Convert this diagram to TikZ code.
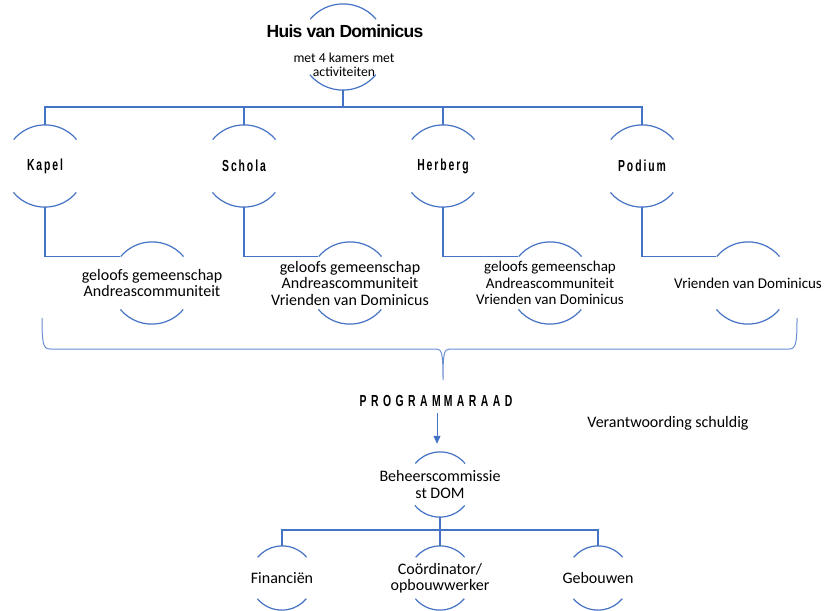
\documentclass[tikz,border=0pt]{standalone}
\usepackage{fontspec}
\setmainfont{Carlito}
\newfontfamily\titlefont{Liberation Sans}[LetterSpace=-4]
\newfontfamily\roomfont{Liberation Sans}[FakeStretch=0.65,LetterSpace=12]
\newfontfamily\raadfont{Liberation Sans}[FakeStretch=0.65,LetterSpace=28]
\usepackage{tikz}
\usetikzlibrary{arrows.meta}
\definecolor{office-blue}{HTML}{4472C4}
\tikzset{
    ring-node/.style = {circle, inner sep=0pt, minimum size=2*#1},
    ring-arc/.style = {draw=office-blue, line width=1.2pt},
    link-line/.style = {draw=office-blue, line width=1.3pt},
    brace-line/.style = {draw=office-blue!80, line width=1pt},
    arrow-line/.style = {draw=office-blue, line width=1pt, -{Triangle[width=7pt,length=8pt]}},
    room-label/.style = {font=\roomfont\bfseries\fontsize{16}{18}\selectfont, inner sep=0pt},
    body-text/.style = {font=\fontsize{16}{16.5}\selectfont, align=center, inner sep=0pt},
}

\begin{document}
\begin{tikzpicture}[x=1pt, y=1pt]
\useasboundingbox (0,0) rectangle (826,-610);
% Huis van Dominicus
\node[ring-node=43] (huis) at (343,-47) {};
\node[font=\titlefont\bfseries\fontsize{17.5}{20}\selectfont, inner sep=0pt] (huis-titel) at (345,-31) {Huis van Dominicus};
\node[body-text, font=\fontsize{13.7}{14}\selectfont] (huis-sub) at (344,-65) {met 4 kamers met\\activiteiten};

% de vier kamers
\node[ring-node=41] (kapel) at (45,-166) {};
\node[ring-node=41] (schola) at (244,-166) {};
\node[ring-node=41] (herberg) at (443,-166) {};
\node[ring-node=41] (podium) at (642,-166) {};
\foreach \room/\name in {kapel/Kapel, schola/Schola, herberg/Herberg, podium/Podium}
    \node[room-label] (\room-label) at (\room) {\name};

\node[ring-node=41] (kapel-sub) at (152,-283) {};
\node[ring-node=41] (schola-sub) at (350,-283) {};
\node[ring-node=41] (herberg-sub) at (550,-283) {};
\node[ring-node=41] (podium-sub) at (748,-283) {};
\node[body-text] (kapel-sub-text) at (kapel-sub) {geloofs gemeenschap\\Andreascommuniteit};
\node[body-text] (schola-sub-text) at (schola-sub) {geloofs gemeenschap\\Andreascommuniteit\\Vrienden van Dominicus};
\node[body-text, font=\fontsize{15}{16.3}\selectfont] (herberg-sub-text) at (herberg-sub) {geloofs gemeenschap\\Andreascommuniteit\\Vrienden van Dominicus};
\node[body-text, font=\fontsize{15}{16}\selectfont] (podium-sub-text) at (podium-sub) {Vrienden van Dominicus};

% accolade naar de programmaraad
\draw[brace-line] (42,-318) .. controls (42,-343) and (43,-349) .. (50,-349) -- (436,-349)
    .. controls (442,-349) and (443,-353) .. (443,-380)
    .. controls (443,-353) and (444,-349) .. (450,-349) -- (789,-349)
    .. controls (796,-349) and (797,-343) .. (797,-318);

\node[font=\raadfont\bfseries\fontsize{16}{18}\selectfont, inner sep=0pt] (raad) at (436,-400.5) {PROGRAM\kern3pt MARAAD};
\node[body-text] (verantwoording) at (668,-423) {Verantwoording schuldig};

% beheer
\node[ring-node=32.5] (beheer) at (440,-484.5) {};
\node[body-text] (beheer-text) at (beheer) {Beheerscommissie\\st DOM};
\node[ring-node=32] (financien) at (282,-578) {};
\node[ring-node=32] (coordinator) at (440,-578) {};
\node[ring-node=32] (gebouwen) at (598,-578) {};
\node[body-text] (financien-text) at (financien) {Financiën};
\node[body-text] (coordinator-text) at (coordinator) {Coördinator/\\opbouwwerker};
\node[body-text] (gebouwen-text) at (gebouwen) {Gebouwen};

% verbindingen
\coordinate (bus) at (0,-107);
\coordinate (bus-beheer) at (0,-530);
\foreach \room in {kapel, schola, herberg, podium} {
    \draw[link-line] (huis.south) |- (bus -| \room.north) -- (\room.north);
    \draw[link-line] (\room.south) |- (\room-sub.140);
}
\foreach \part in {financien, coordinator, gebouwen}
    \draw[link-line] (beheer.south) |- (bus-beheer -| \part.north) -- (\part.north);
\draw[arrow-line, shorten >=15pt] ([xshift=1pt, yshift=-7pt]raad.south) -- ([xshift=1pt, yshift=-7pt]raad.south |- beheer.north);

% bogen
\foreach \n/\r in {huis/43, kapel/41, schola/41, herberg/41, podium/41, kapel-sub/41, schola-sub/41, herberg-sub/41, podium-sub/41, beheer/32.5, financien/32, coordinator/32, gebouwen/32}
    \draw[ring-arc] (\n.40) arc[start angle=40, end angle=140, radius=\r]
        (\n.220) arc[start angle=220, end angle=320, radius=\r];
\end{tikzpicture}
\end{document}
